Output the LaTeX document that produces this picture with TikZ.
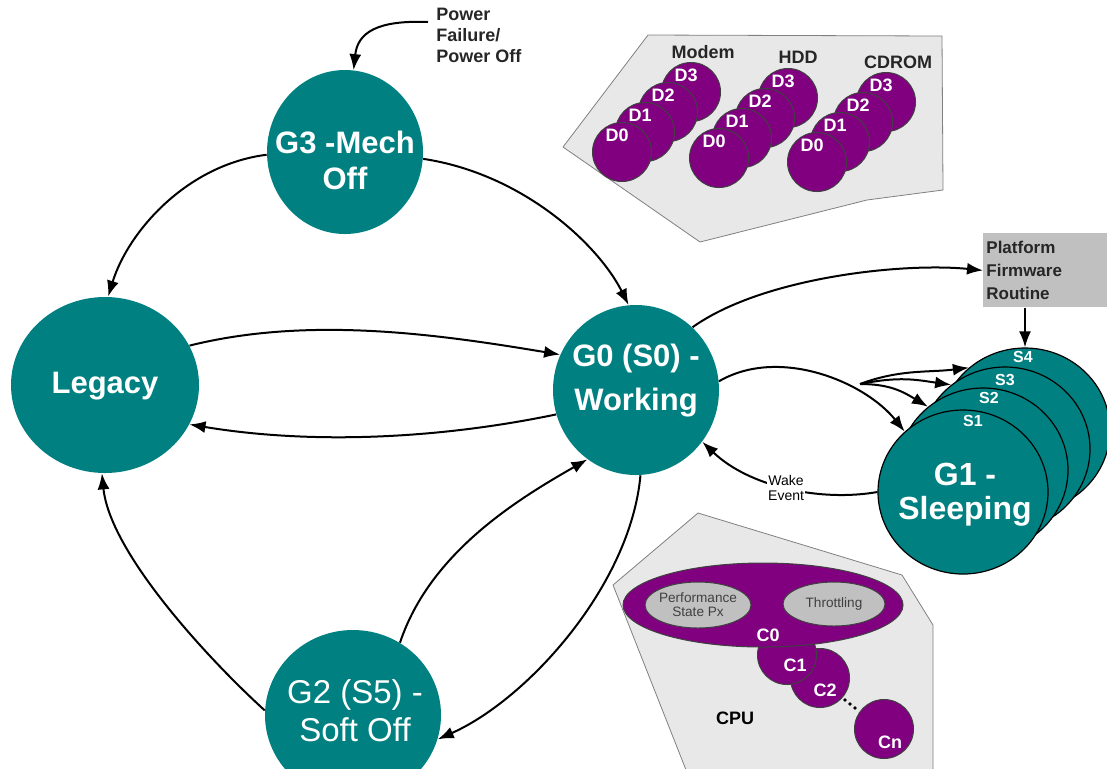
\documentclass[tikz,border=0pt]{standalone}
\usepackage{fontspec}
\setmainfont{Liberation Sans}
\usetikzlibrary{shapes.geometric,arrows.meta}
\definecolor{acpiteal}{RGB}{0,128,128}
\definecolor{acpipurple}{RGB}{128,0,128}
\definecolor{panelgray}{RGB}{232,232,232}
\definecolor{boxgray}{RGB}{192,192,192}

\begin{document}
\begin{tikzpicture}[x=0.5pt,y=-0.5pt,
    state/.style={ellipse,fill=acpiteal,inner sep=0pt},
    statetext/.style={text=white,align=center,inner sep=0pt,
      font=\fontsize{15.5}{18}\selectfont\bfseries},
    sstate/.style={ellipse,fill=acpiteal,draw=black,line width=0.6pt,inner sep=0pt,
      minimum width=85pt,minimum height=82pt},
    dev/.style={circle,fill=acpipurple,draw=black!75,line width=0.5pt,minimum size=29.5pt,inner sep=0pt},
    devtext/.style={text=white,inner sep=0pt,font=\fontsize{9}{9}\selectfont\bfseries},
    stext/.style={text=white,inner sep=0pt,font=\fontsize{8}{8}\selectfont\bfseries},
    pstate/.style={ellipse,fill=boxgray,draw=black!75,line width=0.5pt,inner sep=0pt,
      text=black!75,font=\fontsize{6.8}{7}\selectfont},
    lbl/.style={text=black!85,align=left,inner sep=0pt,font=\fontsize{9}{10.5}\selectfont\bfseries},
    arr/.style={line width=1pt,-{Latex[length=8pt,width=6pt]}}]
  \useasboundingbox (0,0) rectangle (1107,768);

  % device states
  \draw[draw=gray,fill=panelgray] (648,35) -- (942,36) -- (943,190) -- (867,200) -- (700,242) -- (563,147) -- cycle;
  \foreach \gx/\gy/\gname in {622/152/modem,719/158/hdd,817/162/cdrom} {
    \foreach[evaluate=\d as \cx using \gx+23*\d, evaluate=\d as \cy using \gy-20*\d] \d in {3,2,1,0} {
      \node[dev] (\gname-d\d) at (\cx,\cy) {};
      \node[devtext] (\gname-t\d) at (\cx-5,\cy-17) {D\d};
    }
  }
  \node[lbl] (modemlbl) at (703,52) {Modem};
  \node[lbl] (hddlbl) at (798,57) {HDD};
  \node[lbl] (cdromlbl) at (898,62) {CDROM};

  % cpu states
  \draw[draw=gray,fill=panelgray] (698,513) -- (902,575) -- (933,625) -- (933,775) -- (688,775) -- (613,585) -- cycle;
  \node[dev] (cn) at (884,729) {};
  \node[dev] (c2) at (820,678) {};
  \node[dev] (c1) at (787,655) {};
  \node[ellipse,fill=acpipurple,draw=black!75,line width=0.5pt,minimum width=140pt,minimum height=42pt] (c0) at (763,605) {};
  \node[pstate,minimum width=53pt,minimum height=23pt] (perf) at (698,605) {};
  \node[pstate,minimum width=51pt,minimum height=22pt] (thr) at (834,604) {};
  \node[pstate,draw=none,fill=none,align=center] (perft) at (perf) {Performance\\State Px};
  \node[pstate,draw=none,fill=none] (thrt) at (thr) {Throttling};
  \node[devtext] (c0t) at (768,635) {C0};
  \node[devtext] (c1t) at (795,665) {C1};
  \node[devtext] (c2t) at (825,690) {C2};
  \node[devtext] (cnt) at (890,742) {Cn};
  \foreach \i in {0,1,2}
    \fill (845+5*\i,700+4*\i) circle (0.9pt);
  \node[lbl,text=black] (cpu) at (735,718) {CPU};

  % global states
  \node[state,minimum width=78pt,minimum height=82pt] (g3) at (345,152) {};
  \node[statetext] (g3t) at (345,160) {G3 -Mech\\Off};
  \node[state,minimum width=94pt,minimum height=88pt] (leg) at (105,385) {};
  \node[statetext] (legt) at (105,386) {Legacy};
  \node[state,minimum width=83pt,minimum height=85pt] (g0) at (636,390) {};
  \node[statetext,font=\fontsize{15.5}{22}\selectfont\bfseries] (g0t) at (636,381) {G0 (S0) -\\Working};
  \node[state,minimum width=88pt,minimum height=85pt] (g2) at (353,715) {};
  \node[statetext,font=\fontsize{16.5}{19}\selectfont] (g2t) at (355,711) {G2 (S5) -\\Soft Off};

  % sleeping states
  \node[sstate] (s4) at (1025,430) {};
  \node[stext] (s4t) at (1023,357) {S4};
  \node[sstate] (s3) at (1005,449) {};
  \node[stext] (s3t) at (1005,380) {S3};
  \node[sstate] (s2) at (983,470) {};
  \node[stext] (s2t) at (989,398) {S2};
  \node[sstate] (g1) at (963,492) {};
  \node[stext] (s1t) at (973,421) {S1};
  \node[statetext,font=\fontsize{16}{17}\selectfont\bfseries] (g1t) at (965,495) {G1 -\\Sleeping};

  \node[fill=boxgray,anchor=north west,text width=60pt,inner xsep=1.5pt,minimum height=37pt,
    align=left,text=black!85,font=\fontsize{8.5}{11.5}\selectfont\bfseries] (fw) at (983,233) {Platform\\Firmware\\Routine};
  \node[lbl,anchor=north west] (pwr) at (436,8) {Power\\Failure/\\Power Off};
  \coordinate (pwrin) at (428,22);
  \coordinate (br) at (860,384);

  % transitions
  \draw[arr] (pwrin) .. controls +(-50,-2) and +(4,-38) .. (g3.84);
  \draw[arr] (g3.182) .. controls +(-80,10) and +(20,-65) .. (leg.88);
  \draw[arr] (g3.-5) .. controls +(100,15) and +(-30,-60) .. (g0.95);
  \draw[arr] (leg.25) .. controls +(120,-30) and +(-120,-20) .. (g0.155);
  \draw[arr] (g0.197) .. controls +(-120,25) and +(120,20) .. (leg.-25);
  \draw[arr] (g2.177) .. controls +(-55,-50) and +(8,80) .. (leg.-92);
  \draw[arr] (g2.57) .. controls +(30,-90) and +(-70,40) .. (g0.235);
  \draw[arr] (g0.-87) .. controls +(-10,110) and +(90,-40) .. (g2.-16);
  \draw[arr] (g0.48) .. controls +(70,-50) and +(-80,-8) .. (fw.west);
  \draw[arr] (fw.south west -| s4.north) -- (s4.north);
  \draw[arr] (g0.6) .. controls +(60,-35) and +(-40,-50) .. (g1.134);
  \draw[arr] (br) .. controls +(40,-15) and +(-40,5) .. (s4.132);
  \draw[arr] (br) .. controls +(40,-8) and +(-35,-5) .. (s3.130);
  \draw[arr] (br) .. controls +(30,0) and +(-25,-15) .. (s2.131);
  \draw[arr] (g1.180) .. controls +(-57,10) and +(47,45) .. (g0.-38)
    node[pos=0.5,fill=white,inner sep=0.5pt,align=center,font=\fontsize{7}{7.5}\selectfont] (wake) {Wake\\Event};
\end{tikzpicture}
\end{document}
